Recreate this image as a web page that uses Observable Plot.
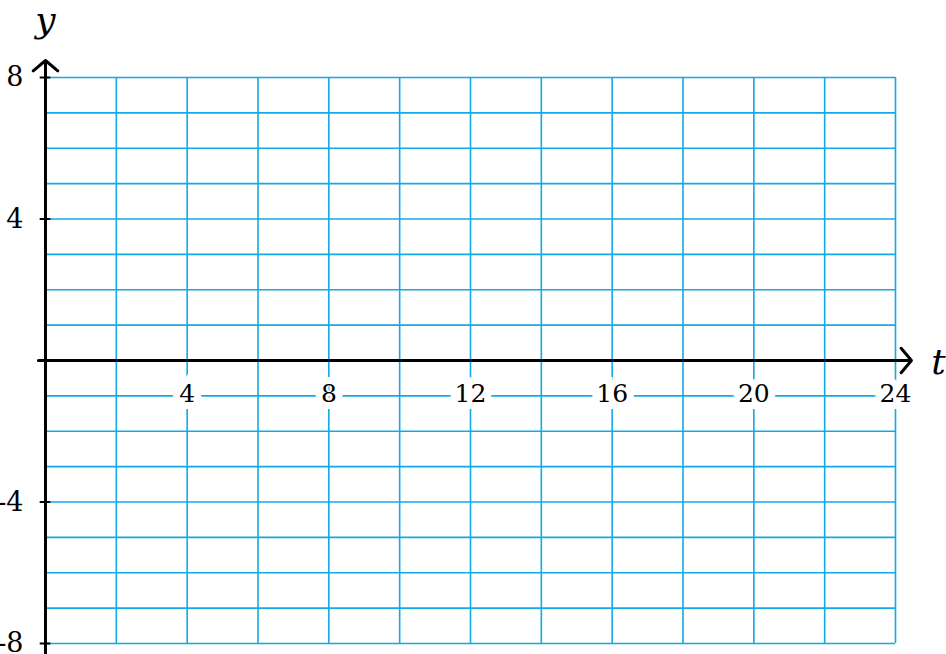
<!DOCTYPE html>
<html><head><meta charset="utf-8">
<script src="https://cdn.jsdelivr.net/npm/d3@7"></script>
<script src="https://cdn.jsdelivr.net/npm/@observablehq/plot@0.6"></script>
<style>body{margin:0;background:#fff}svg{display:block}</style>
</head><body><div id="chart"></div>
<script>
const xGrid = [0,2,4,6,8,10,12,14,16,18,20,22,24];
const yGrid = [-8,-7,-6,-5,-4,-3,-2,-1,0,1,2,3,4,5,6,7,8];
const xTickValues = [4,8,12,16,20,24];
const xTickLabels = ["4","8","12","16","20","24"];
const yTickValues = [8,4,-4,-8];
const yTickLabels = ["8","4","-4","-8"];
const xDomain = [0,24];
const yDomain = [-8,8];

const gridColor = "#12a9e8";
const serif = "DejaVu Serif";

const xt = xTickValues.map((v,i)=>({v, label:xTickLabels[i]}));
const yt = yTickValues.map((v,i)=>({v, label:yTickLabels[i]}));

const plot = Plot.plot({
  width: 946, height: 654,
  marginLeft: 45, marginRight: 51, marginTop: 77, marginBottom: 11,
  x: {domain: xDomain, axis: null},
  y: {domain: yDomain, axis: null},
  style: {background: "white", overflow: "visible", fontFamily: serif},
  marks: [
    Plot.ruleX(xGrid, {x: d=>d, y1: yDomain[0], y2: yDomain[1], stroke: gridColor, strokeWidth: 1.6}),
    Plot.ruleY(yGrid, {y: d=>d, x1: xDomain[0], x2: xDomain[1], stroke: gridColor, strokeWidth: 1.6}),
    Plot.text(xt, {x: "v", y: 0, dy: 33, text: "label", fontSize: 25, fontFamily: serif, fill: "black", stroke: "white", strokeWidth: 14, strokeLinejoin: "miter", lineAnchor: "middle"}),
    Plot.ruleY(yt, {y: "v", x1: -0.15, x2: 0.15, stroke: "black", strokeWidth: 2}),
    Plot.text(yt, {x: 0, y: "v", dx: -22, text: "label", fontSize: 27, fontFamily: serif, fill: "black", textAnchor: "end", lineAnchor: "middle"}),
    Plot.arrow([0], {x1: -0.2, y1: 0, x2: 24.45, y2: 0, stroke: "black", strokeWidth: 3, headLength: 8, headAngle: 100}),
    Plot.arrow([0], {x1: 0, y1: -8.35, x2: 0, y2: 8.48, stroke: "black", strokeWidth: 3, headLength: 8, headAngle: 100}),
    Plot.text(["y"], {x: 0, y: 8, dy: -57, text: d=>d, fontSize: 36, fontFamily: serif, fontStyle: "italic", fill: "black", lineAnchor: "middle"}),
    Plot.text(["t"], {x: 24, y: 0, dx: 43, dy: 2, text: d=>d, fontSize: 36, fontFamily: serif, fontStyle: "italic", fill: "black", lineAnchor: "middle"})
  ]
});
document.getElementById("chart").appendChild(plot);
</script></body></html>
